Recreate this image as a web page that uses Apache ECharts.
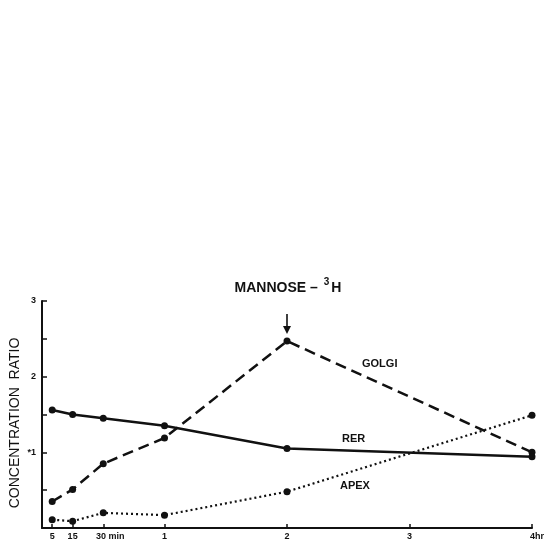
<!DOCTYPE html>
<html><head><meta charset="utf-8">
<script src="https://cdn.jsdelivr.net/npm/echarts@6/dist/echarts.min.js"></script>
<style>html,body{margin:0;padding:0;background:#fff}#c{width:548px;height:546px}</style>
</head><body><div id="c"></div>
<script>
// time in hours
var times = [5/60, 0.25, 0.5, 1, 2, 4];
var golgi = [0.35, 0.51, 0.85, 1.19, 2.47, 1.00];
var rer   = [1.56, 1.50, 1.45, 1.35, 1.05, 0.94];
var apex  = [0.11, 0.09, 0.20, 0.17, 0.48, 1.49];
var xTickValues = [5/60, 0.25, 0.5, 1, 2, 3, 4];
var xTickLabels = ['5', '15', '30 min', '1', '2', '3', '4hr'];
var yTickLabels = {1: '*1', 2: '2', 3: '3'};
var yAxisTitle = 'CONCENTRATION  RATIO';
var seriesNames = ['GOLGI', 'RER', 'APEX'];

function pairs(v){ return times.map(function(t,i){ return [t, v[i]]; }); }
var font = 'Liberation Sans, Arial, sans-serif';
var chart = echarts.init(document.getElementById('c'));
chart.setOption({
  backgroundColor: '#fff',
  animation: false,
  title: {
    text: '{a|MANNOSE – }{s|3}{a|H}',
    left: 283, top: 272, textAlign: 'center',
    textStyle: {
      rich: {
        a: {fontFamily: font, fontSize: 14, color: '#111', fontWeight: 'bold', verticalAlign: 'bottom', lineHeight: 18},
        s: {fontFamily: font, fontSize: 10, color: '#111', fontWeight: 'bold', verticalAlign: 'top', lineHeight: 18, padding: [0, 2, 6, 2]}
      }
    }
  },
  grid: {left: 42, right: 16, top: 301, bottom: 18, containLabel: false, outerBoundsMode: 'none'},
  xAxis: {
    type: 'value', min: 0, max: 4,
    splitLine: {show: false},
    axisLine: {lineStyle: {color: '#111', width: 2}},
    axisTick: {show: true, inside: true, length: 4, customValues: xTickValues, lineStyle: {color: '#111', width: 1.5}},
    axisLabel: {
      customValues: xTickValues, margin: 4,
      formatter: function(v){
        var i = xTickValues.findIndex(function(t){ return Math.abs(t - v) < 1e-6; });
        var s = i >= 0 ? xTickLabels[i] : '';
        if (s === '30 min') return '{p|30 min}';
        if (s === '4hr') return '{q|4hr}';
        return s;
      },
      color: '#111', fontFamily: font, fontSize: 9, fontWeight: 'bold',
      rich: {
        p: {fontFamily: font, fontSize: 9, fontWeight: 'bold', color: '#111', padding: [0, 0, 0, 14]},
        q: {fontFamily: font, fontSize: 9, fontWeight: 'bold', color: '#111', padding: [0, 0, 0, 10]}
      }
    }
  },
  yAxis: {
    type: 'value', min: 0, max: 3, interval: 0.5,
    splitLine: {show: false},
    axisLine: {show: true, lineStyle: {color: '#111', width: 2}},
    axisTick: {show: true, inside: true, length: 5, lineStyle: {color: '#111', width: 1.5}},
    axisLabel: {
      margin: 6, color: '#111', fontFamily: font, fontSize: 9, fontWeight: 'bold',
      formatter: function(v){ return yTickLabels[v] || ''; }
    }
  },
  graphic: [
    {type: 'text', x: 15, y: 423, rotation: Math.PI / 2,
      style: {text: yAxisTitle, font: '14px ' + font, fill: '#111', textAlign: 'center', textVerticalAlign: 'middle'}},
    {type: 'text', left: 362, top: 358, style: {text: seriesNames[0], font: 'bold 11px ' + font, fill: '#111'}},
    {type: 'text', left: 342, top: 433, style: {text: seriesNames[1], font: 'bold 11px ' + font, fill: '#111'}},
    {type: 'text', left: 340, top: 480, style: {text: seriesNames[2], font: 'bold 11px ' + font, fill: '#111'}}
  ],
  series: [
    {
      name: seriesNames[0], type: 'line', data: pairs(golgi),
      symbol: 'circle', symbolSize: 7, itemStyle: {color: '#111'},
      lineStyle: {color: '#111', width: 2.5, type: [11, 6]},
      markPoint: {
        symbol: 'path://M4,0 L6,0 L6,12 L10,12 L5,20 L0,12 L4,12 Z',
        symbolSize: [8, 20], symbolOffset: [0, -17],
        itemStyle: {color: '#111'}, label: {show: false},
        data: [{coord: [times[4], golgi[4]]}]
      }
    },
    {
      name: seriesNames[1], type: 'line', data: pairs(rer),
      symbol: 'circle', symbolSize: 7, itemStyle: {color: '#111'},
      lineStyle: {color: '#111', width: 2.5}
    },
    {
      name: seriesNames[2], type: 'line', data: pairs(apex),
      symbol: 'circle', symbolSize: 7, itemStyle: {color: '#111'},
      lineStyle: {color: '#111', width: 2.2, type: [2, 3]}
    }
  ]
});
</script></body></html>
